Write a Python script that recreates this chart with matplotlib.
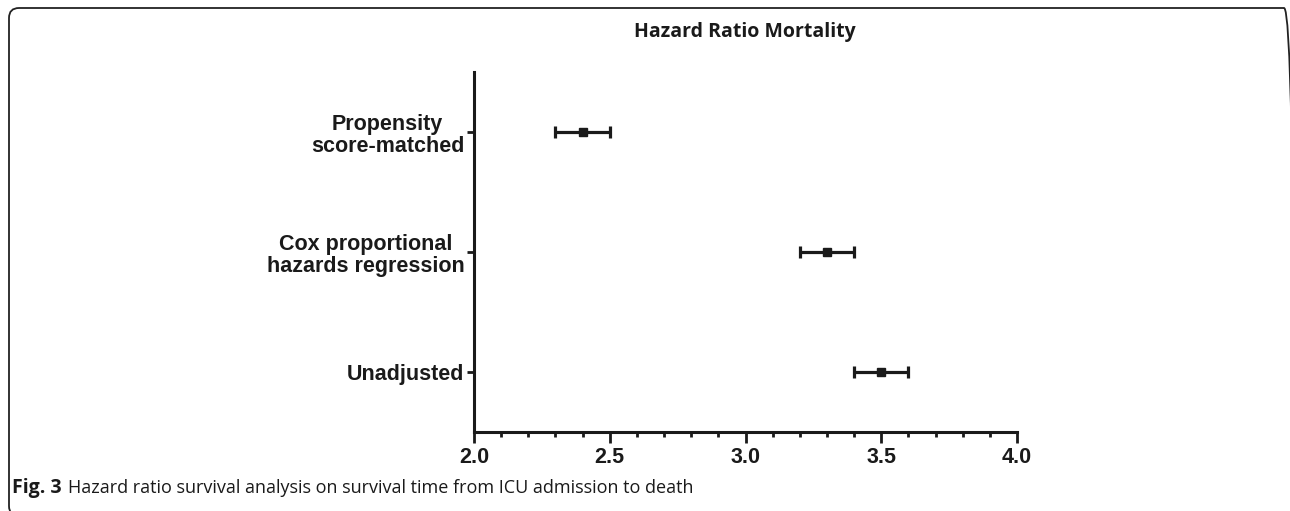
import matplotlib.pyplot as plt
from matplotlib.patches import FancyBboxPatch
from matplotlib.ticker import MultipleLocator

# Hazard ratios with confidence limits
labels = ['Unadjusted', 'Cox proportional\nhazards regression', 'Propensity\nscore-matched']
hr     = [3.5, 3.3, 2.4]
lower  = [3.4, 3.2, 2.3]
upper  = [3.6, 3.4, 2.5]
ypos   = [1, 2, 3]
xticks = [2.0, 2.5, 3.0, 3.5, 4.0]

ink = '#1a1a1a'
fig = plt.figure(figsize=(12.9, 5.11), dpi=100)

# rounded frame of the figure panel (right and bottom run off the canvas)
frame = FancyBboxPatch((0.09, -0.05), 12.85, 5.08,
                       boxstyle='round,pad=0,rounding_size=0.1',
                       transform=fig.dpi_scale_trans, fill=False,
                       edgecolor='#222222', linewidth=1.3)
fig.patches.append(frame)

ax = fig.add_axes([474/1290, 1-432/511, 543/1290, 360/511])

err = [[h - l for h, l in zip(hr, lower)], [u - h for h, u in zip(hr, upper)]]
ax.errorbar(hr, ypos, xerr=err, fmt='s', color=ink, ecolor=ink,
            markersize=5.5, elinewidth=2.3, capsize=4.3, capthick=2.3)

ax.set_xlim(2.0, 4.0)
ax.set_ylim(0.5, 3.5)
ax.set_xticks(xticks)
ax.set_xticklabels(['%.1f' % v for v in xticks])
ax.xaxis.set_minor_locator(MultipleLocator(0.1))
ax.set_yticks(ypos)
ax.set_yticklabels(labels, multialignment='center', linespacing=1.1)

for s in ['top', 'right']:
    ax.spines[s].set_visible(False)
for s in ['left', 'bottom']:
    ax.spines[s].set_linewidth(2.2)
    ax.spines[s].set_color(ink)

ax.tick_params(axis='x', which='major', length=8, width=2, color=ink, pad=3)
ax.tick_params(axis='x', which='minor', length=3.6, width=2, color=ink)
ax.tick_params(axis='y', length=5, width=2, color=ink, pad=2)
for t in ax.get_xticklabels():
    t.set_fontfamily('Liberation Sans')
    t.set_fontweight('bold')
    t.set_fontsize(15.5)
    t.set_color(ink)
for t in ax.get_yticklabels():
    t.set_fontfamily('Liberation Sans')
    t.set_fontweight('bold')
    t.set_fontsize(15.5)
    t.set_color(ink)

fig.text(745/1290, 1-32/511, 'Hazard Ratio Mortality', ha='center', va='center',
         fontfamily='Open Sans', fontweight='bold', fontsize=14, color=ink)

fig.text(12/1290, 1-488/511, 'Fig. 3', ha='left', va='center',
         fontfamily='Open Sans', fontweight='bold', fontsize=14, color=ink)
fig.text(68/1290, 1-488/511, 'Hazard ratio survival analysis on survival time from ICU admission to death',
         ha='left', va='center', fontfamily='Open Sans', fontsize=13, color=ink)

fig.savefig('out.png', dpi=100)
